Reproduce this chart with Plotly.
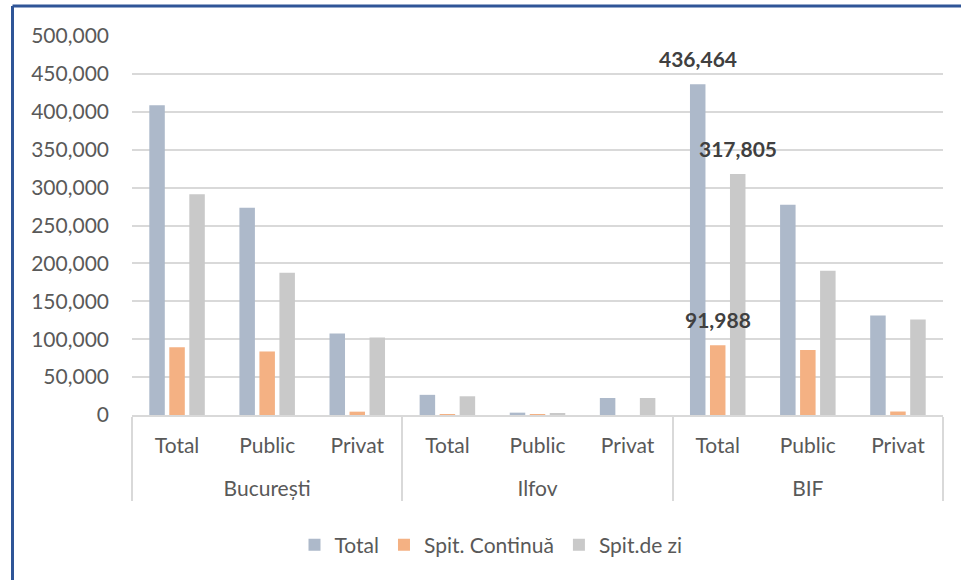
import plotly.graph_objects as go

regions = ["București"] * 3 + ["Ilfov"] * 3 + ["BIF"] * 3
sectors = ["Total", "Public", "Privat"] * 3

series_names = ["Total", "Spit. Continuă", "Spit.de zi"]
total_vals = [408600, 273500, 107600, 26600, 3100, 22400, 436464, 277400, 131200]
continua_vals = [89500, 83800, 4400, 1300, 900, 0, 91988, 85900, 4600]
zi_vals = [291200, 187600, 102300, 24700, 1800, 22400, 317805, 190300, 126000]

labelled = [("BIF", "Total")]  # category whose values carry data labels

colors = ["#ADB9CA", "#F4B183", "#C9C9C9"]
FONT = "Lato, 'Open Sans', sans-serif"
TXT = "#595959"
FS = 21

L, R, T, B = 132, 18, 36, 165
BARGAP = 0.334

# first-level labels get an empty second line so the region row sits lower
sector_labels = [s + "<br> " for s in sectors]

fig = go.Figure()
all_vals = [total_vals, continua_vals, zi_vals]
for name, vals, col in zip(series_names, all_vals, colors):
    fig.add_trace(go.Bar(
        name=name,
        x=[regions, sector_labels],
        y=vals,
        marker=dict(color=col, line=dict(width=0)),
    ))

# data labels for the labelled category
annotations = []
slot = (1 - BARGAP) / 3
for reg, sec in labelled:
    idx = [i for i in range(len(regions)) if regions[i] == reg and sectors[i] == sec][0]
    for k, vals in enumerate(all_vals):
        annotations.append(dict(
            x=idx + (k - 1) * slot, y=vals[idx], xref="x", yref="y",
            text=f"{vals[idx]:,}", showarrow=False, yanchor="middle", yshift=26,
            font=dict(family=FONT, size=FS, color="#404040", weight="bold"),
        ))

W, H = 961, 580
pw, ph = W - L - R, H - T - B
px = lambda v: (v - L) / pw
py = lambda v: (H - B - v) / ph
border = "#2F5597"
shapes = [
    dict(type="line", xref="paper", yref="paper", x0=px(12.5), x1=px(W + 2), y0=py(6), y1=py(6),
         line=dict(color=border, width=3)),
    dict(type="line", xref="paper", yref="paper", x0=px(12.5), x1=px(12.5), y0=py(6), y1=py(H + 2),
         line=dict(color=border, width=3)),
]

fig.update_layout(
    width=W, height=H,
    margin=dict(l=L, r=R, t=T, b=B),
    paper_bgcolor="white", plot_bgcolor="white",
    barmode="group", bargap=BARGAP, bargroupgap=0.225,
    font=dict(family=FONT, size=FS, color=TXT),
    showlegend=True,
    legend=dict(orientation="h", x=px(491), xanchor="center", y=py(545), yanchor="middle",
                font=dict(family=FONT, size=FS, color=TXT), itemwidth=30,
                traceorder="normal"),
    annotations=annotations,
    shapes=shapes,
    xaxis=dict(type="multicategory", showline=True, linecolor="#D9D9D9", linewidth=1.5,
               showdividers=True, dividercolor="#D9D9D9", dividerwidth=1.5,
               tickfont=dict(family=FONT, size=FS, color=TXT), ticks="",
               ticklabelstandoff=11),
    yaxis=dict(range=[0, 500000], dtick=50000, tickformat=",", showline=False,
               gridcolor="#D9D9D9", gridwidth=1.5, zeroline=False,
               tickfont=dict(family=FONT, size=FS, color=TXT), ticklabelstandoff=22),
)

fig.write_html("out.html", config={"displayModeBar": False},
               post_script="document.body.style.margin='0';")
